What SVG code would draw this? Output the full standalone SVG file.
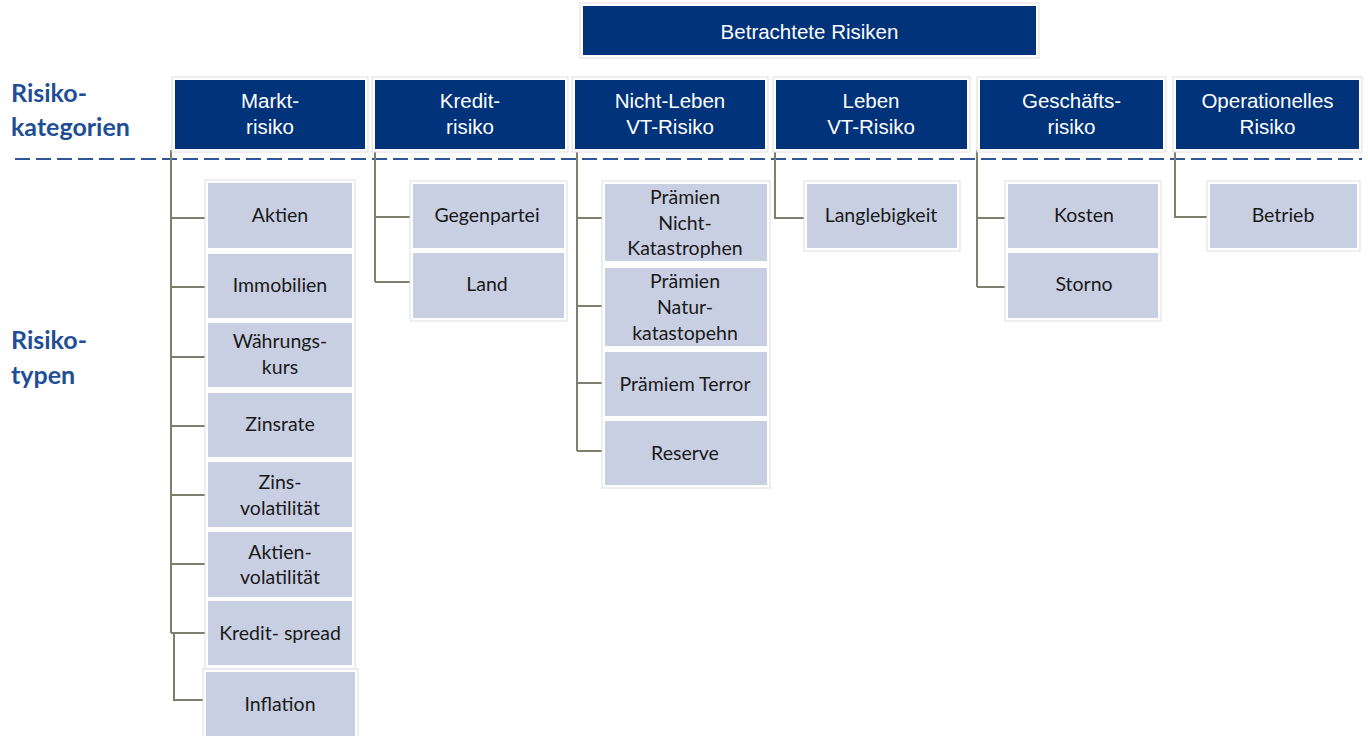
<svg xmlns="http://www.w3.org/2000/svg" width="1368" height="736" viewBox="0 0 1368 736">
<style>
.cat{fill:#00337A}
.frame{fill:#FFFFFF;stroke:#DEDEDE;stroke-width:1}
.typ{fill:#C8CFE3}
.ct{font-family:"Liberation Sans",Arial,sans-serif;font-size:20.5px;fill:#FFFFFF;text-anchor:middle}
.tt{font-family:Lato,"Open Sans",sans-serif;font-size:19.5px;fill:#1A1A1A;text-anchor:middle}
.lbl{font-family:Lato,"Open Sans",sans-serif;font-weight:bold;font-size:25px;fill:#1F4E96}
.con{fill:none;stroke:#7F7F70;stroke-width:2}
</style>
<rect width="1368" height="736" fill="#FFFFFF"/>

<g id="label-kategorien">
<text class="lbl" x="11" y="102">Risiko-</text>
<text class="lbl" x="11" y="136">kategorien</text>
</g>
<g id="label-typen">
<text class="lbl" x="11" y="349">Risiko-</text>
<text class="lbl" x="11" y="384">typen</text>
</g>

<line id="divider" x1="15" y1="159" x2="1362" y2="159" stroke="#2F5597" stroke-width="2" stroke-dasharray="15 6"/>

<g id="connectors">
<path class="con" d="M171 150V633M171 218H208M171 287H208M171 357H208M171 426H208M171 495H208M171 564H208M171 633H208"/>
<path class="con" d="M174 633V700H206"/>
<path class="con" d="M375 150V282M375 217H413M375 282H413"/>
<path class="con" d="M577 150V451M577 218H605M577 306H605M577 383H605M577 451H605"/>
<path class="con" d="M775 150V218H807"/>
<path class="con" d="M977 150V287M977 218H1008M977 287H1008"/>
<path class="con" d="M1175 150V217H1210"/>
</g>

<g id="root">
<rect class="frame" x="580" y="3" width="459" height="55"/>
<rect class="cat" x="583" y="6" width="453" height="49"/>
<text class="ct" x="809.5" y="38.5" font-size="23">Betrachtete Risiken</text>
</g>

<g id="cat-markt">
<rect class="frame" x="172" y="77" width="196" height="75"/>
<rect class="cat" x="175" y="80" width="190" height="69"/>
<text class="ct" x="270" y="108">Markt-</text><text class="ct" x="270" y="134">risiko</text>
</g>
<g id="cat-kredit">
<rect class="frame" x="372" y="77" width="196" height="75"/>
<rect class="cat" x="375" y="80" width="190" height="69"/>
<text class="ct" x="470" y="108">Kredit-</text><text class="ct" x="470" y="134">risiko</text>
</g>
<g id="cat-nichtleben">
<rect class="frame" x="572" y="77" width="196" height="75"/>
<rect class="cat" x="575" y="80" width="190" height="69"/>
<text class="ct" x="670" y="108">Nicht-Leben</text><text class="ct" x="670" y="134">VT-Risiko</text>
</g>
<g id="cat-leben">
<rect class="frame" x="773" y="77" width="197" height="75"/>
<rect class="cat" x="776" y="80" width="191" height="69"/>
<text class="ct" x="871" y="108">Leben</text><text class="ct" x="871" y="134">VT-Risiko</text>
</g>
<g id="cat-geschaeft">
<rect class="frame" x="977" y="77" width="189" height="75"/>
<rect class="cat" x="980" y="80" width="183" height="69"/>
<text class="ct" x="1071.5" y="108">Geschäfts-</text><text class="ct" x="1071.5" y="134">risiko</text>
</g>
<g id="cat-operationell">
<rect class="frame" x="1173" y="77" width="189" height="75"/>
<rect class="cat" x="1176" y="80" width="183" height="69"/>
<text class="ct" x="1267.5" y="108">Operationelles</text><text class="ct" x="1267.5" y="134">Risiko</text>
</g>

<!-- column frames -->
<rect class="frame" x="205" y="180" width="150" height="489"/>
<rect class="frame" x="203" y="669" width="155" height="75"/>
<rect class="frame" x="410" y="181" width="157" height="140"/>
<rect class="frame" x="602" y="181" width="168" height="307"/>
<rect class="frame" x="804" y="181" width="156" height="70"/>
<rect class="frame" x="1005" y="181" width="156" height="140"/>
<rect class="frame" x="1207" y="181" width="153" height="70"/>

<g id="t-aktien"><rect class="typ" x="208" y="183" width="144" height="65"/><text class="tt" x="280" y="222">Aktien</text></g>
<g id="t-immobilien"><rect class="typ" x="208" y="254" width="144" height="64"/><text class="tt" x="280" y="292">Immobilien</text></g>
<g id="t-waehrung"><rect class="typ" x="208" y="323" width="144" height="64"/><text class="tt" x="280" y="348">Währungs-</text><text class="tt" x="280" y="374">kurs</text></g>
<g id="t-zinsrate"><rect class="typ" x="208" y="393" width="144" height="64"/><text class="tt" x="280" y="431">Zinsrate</text></g>
<g id="t-zinsvol"><rect class="typ" x="208" y="462" width="144" height="65"/><text class="tt" x="280" y="489">Zins-</text><text class="tt" x="280" y="515">volatilität</text></g>
<g id="t-aktienvol"><rect class="typ" x="208" y="532" width="144" height="65"/><text class="tt" x="280" y="559">Aktien-</text><text class="tt" x="280" y="584">volatilität</text></g>
<g id="t-kreditspread"><rect class="typ" x="208" y="601" width="144" height="64"/><text class="tt" x="280" y="640">Kredit- spread</text></g>
<g id="t-inflation"><rect class="typ" x="206" y="672" width="149" height="70"/><text class="tt" x="280" y="711">Inflation</text></g>

<g id="t-gegenpartei"><rect class="typ" x="413" y="184" width="151" height="64"/><text class="tt" x="487" y="222">Gegenpartei</text></g>
<g id="t-land"><rect class="typ" x="413" y="253" width="151" height="65"/><text class="tt" x="487" y="291">Land</text></g>

<g id="t-nichtkat"><rect class="typ" x="605" y="184" width="162" height="77"/><text class="tt" x="685" y="204">Prämien</text><text class="tt" x="685" y="230">Nicht-</text><text class="tt" x="685" y="255">Katastrophen</text></g>
<g id="t-naturkat"><rect class="typ" x="605" y="268" width="162" height="78"/><text class="tt" x="685" y="288">Prämien</text><text class="tt" x="685" y="314">Natur-</text><text class="tt" x="685" y="340">katastopehn</text></g>
<g id="t-terror"><rect class="typ" x="605" y="352" width="162" height="64"/><text class="tt" x="685" y="391">Prämiem Terror</text></g>
<g id="t-reserve"><rect class="typ" x="605" y="421" width="162" height="64"/><text class="tt" x="685" y="460">Reserve</text></g>

<g id="t-langlebigkeit"><rect class="typ" x="807" y="184" width="150" height="64"/><text class="tt" x="881" y="222">Langlebigkeit</text></g>

<g id="t-kosten"><rect class="typ" x="1008" y="184" width="150" height="64"/><text class="tt" x="1084" y="222">Kosten</text></g>
<g id="t-storno"><rect class="typ" x="1008" y="253" width="150" height="65"/><text class="tt" x="1084" y="291">Storno</text></g>

<g id="t-betrieb"><rect class="typ" x="1210" y="184" width="147" height="64"/><text class="tt" x="1283" y="222">Betrieb</text></g>
</svg>
